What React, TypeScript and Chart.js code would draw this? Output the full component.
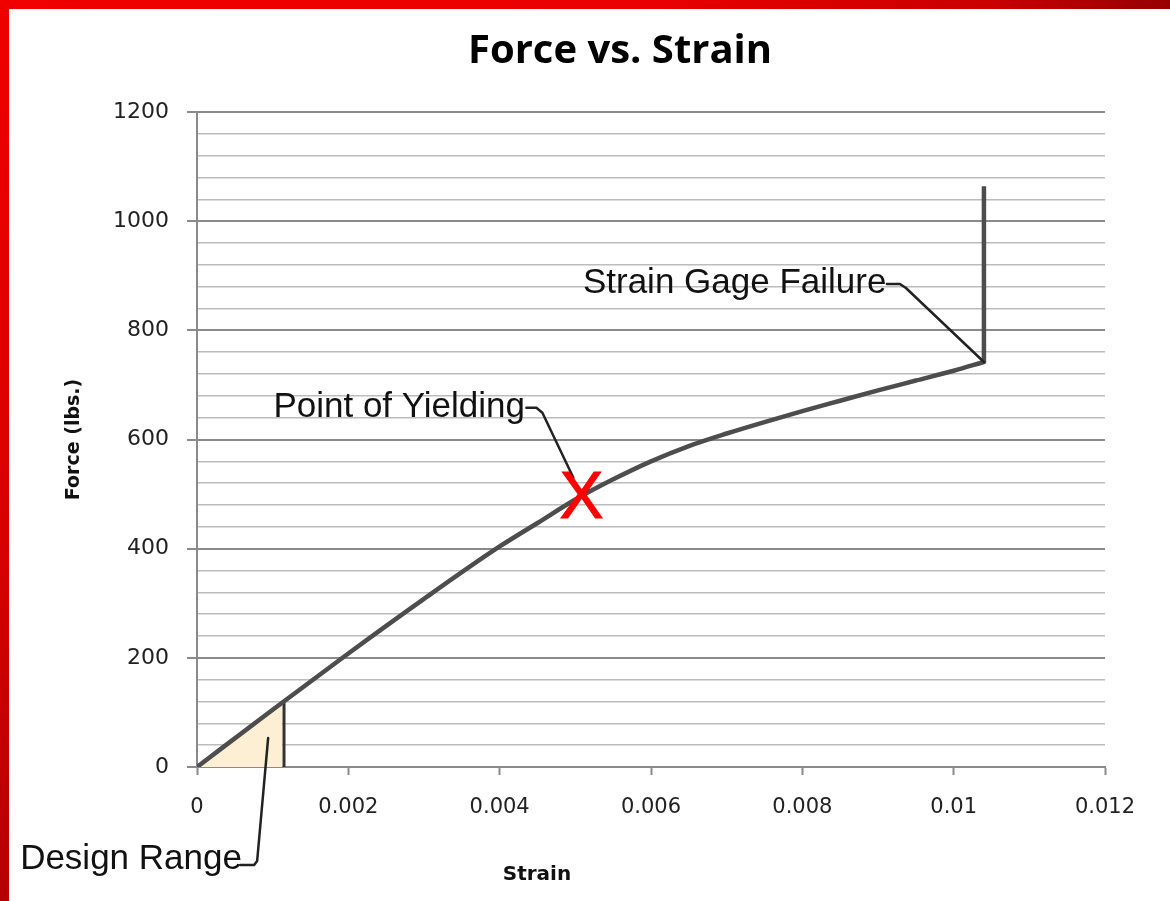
import React, { useEffect, useRef } from 'react';
import { Chart, registerables } from 'chart.js';

Chart.register(...registerables);

// ---- data ----
const strain = [0, 0.001, 0.002, 0.003, 0.004, 0.0045, 0.005, 0.0055, 0.006, 0.0065, 0.007, 0.0075, 0.008, 0.0085, 0.009, 0.0095, 0.01, 0.0104];
const force = [0, 105, 208, 308, 404, 447, 490, 527, 560, 588, 611, 632, 652, 671, 690, 708, 726, 742];

const failureSegStrain = [0.0104, 0.0104];
const failureSegForce = [742, 1064];

const designStrain = [0, 0.00113];
const designForce = [0, 118];
const designLimitStrain = [0.00115, 0.00115];
const designLimitForce = [0, 122];

const yieldStrain = 0.00508;
const yieldForce = 495;
const failureStrain = 0.0104;
const failureForce = 742;
const designNoteStrain = 0.00094;
const designNoteForce = 53;

const xTickValues = [0, 0.002, 0.004, 0.006, 0.008, 0.01, 0.012];
const xTickLabels = ['0', '0.002', '0.004', '0.006', '0.008', '0.01', '0.012'];
const yMin = 0;
const yMax = 1200;
const yMajorStep = 200;
const yMinorStep = 40;

const titleText = 'Force vs. Strain';
const xTitle = 'Strain';
const yTitle = 'Force (lbs.)';
const yieldLabel = 'Point of Yielding';
const failureLabel = 'Strain Gage Failure';
const designLabel = 'Design Range';

const MAJOR = '#8a8a8a';
const MINOR = '#bcbcbc';
const NOTE_FONT = '35px "Liberation Sans", Arial, sans-serif';

const overlayPlugin = {
  id: 'overlay',
  afterDatasetsDraw(chart: any) {
    const { ctx } = chart;
    const x = chart.scales.x;
    const y = chart.scales.y;
    ctx.save();

    // title
    ctx.font = 'bold 40px "Open Sans"';
    ctx.fillStyle = '#000';
    ctx.textAlign = 'center';
    ctx.textBaseline = 'alphabetic';
    ctx.fillText(titleText, 620, 63);

    // x axis title
    ctx.font = 'bold 20px "DejaVu Sans"';
    ctx.fillStyle = '#111';
    ctx.textBaseline = 'middle';
    ctx.fillText(xTitle, 537, 875);

    const drawLeader = (ax: number, ay: number, pts: number[][]) => {
      ctx.beginPath();
      ctx.strokeStyle = '#222';
      ctx.lineWidth = 2.5;
      ctx.lineJoin = 'round';
      ctx.lineCap = 'round';
      pts.forEach((p, i) => {
        if (i === 0) ctx.moveTo(ax + p[0], ay + p[1]);
        else ctx.lineTo(ax + p[0], ay + p[1]);
      });
      ctx.stroke();
    };
    const drawNote = (ax: number, ay: number, text: string, dx: number, dy: number) => {
      ctx.font = NOTE_FONT;
      ctx.fillStyle = '#111';
      ctx.textAlign = 'left';
      ctx.textBaseline = 'alphabetic';
      ctx.fillText(text, ax + dx, ay + dy);
    };

    // Point of yielding
    const yx = x.getPixelForValue(yieldStrain);
    const yy = y.getPixelForValue(yieldForce);
    drawNote(yx, yy, yieldLabel, -308, -80);
    drawLeader(yx, yy, [[-55, -89], [-45, -89], [-39, -84], [-8, -19]]);
    ctx.font = '66px "Liberation Sans", Arial, sans-serif';
    ctx.fillStyle = '#ff0000';
    ctx.strokeStyle = '#ff0000';
    ctx.lineWidth = 1;
    ctx.lineJoin = 'miter';
    ctx.textAlign = 'center';
    ctx.textBaseline = 'middle';
    ctx.fillText('X', yx, yy + 3);
    ctx.strokeText('X', yx, yy + 3);

    // Strain gage failure
    const fx = x.getPixelForValue(failureStrain);
    const fy = y.getPixelForValue(failureForce);
    drawNote(fx, fy, failureLabel, -401, -69);
    drawLeader(fx, fy, [[-97, -78], [-84, -78], [-78, -74], [0, 0]]);

    // Design range
    const dx = x.getPixelForValue(designNoteStrain);
    const dy = y.getPixelForValue(designNoteForce);
    drawNote(dx, dy, designLabel, -248, 131);
    drawLeader(dx, dy, [[-28, 127], [-14, 127], [-11, 123], [0, 0]]);

    ctx.restore();
  },
};

export default function App() {
  const canvasRef = useRef<HTMLCanvasElement | null>(null);

  useEffect(() => {
    const canvas = canvasRef.current;
    if (!canvas) return;
    const isMajor = (v: number) => Math.abs(Math.round(v) % yMajorStep) === 0;

    const chart = new Chart(canvas, {
      type: 'scatter',
      data: {
        datasets: [
          {
            label: 'Design range fill',
            data: designStrain.map((s, i) => ({ x: s, y: designForce[i] })),
            showLine: true,
            fill: 'origin',
            backgroundColor: '#fcefd3',
            borderColor: 'rgba(0,0,0,0)',
            borderWidth: 0,
            pointRadius: 0,
            order: 4,
          },
          {
            label: 'Design limit',
            data: designLimitStrain.map((s, i) => ({ x: s, y: designLimitForce[i] })),
            showLine: true,
            borderColor: '#333',
            borderWidth: 3,
            pointRadius: 0,
            fill: false,
            order: 3,
          },
          {
            label: 'Force',
            data: strain.map((s, i) => ({ x: s, y: force[i] })),
            showLine: true,
            borderColor: '#4d4d4d',
            borderWidth: 4.5,
            pointRadius: 0,
            fill: false,
            cubicInterpolationMode: 'monotone',
            borderCapStyle: 'round',
            order: 2,
          },
          {
            label: 'Failure',
            data: failureSegStrain.map((s, i) => ({ x: s, y: failureSegForce[i] })),
            showLine: true,
            borderColor: '#4d4d4d',
            borderWidth: 4.5,
            pointRadius: 0,
            fill: false,
            order: 1,
          },
        ],
      },
      options: {
        animation: false,
        responsive: false,
        maintainAspectRatio: false,
        layout: { padding: { top: 112, right: 65, bottom: 14, left: 0 } },
        plugins: {
          legend: { display: false },
          tooltip: { enabled: false },
          title: { display: false },
        },
        scales: {
          x: {
            type: 'linear',
            min: 0,
            max: 0.012,
            afterFit: (scale: any) => { scale.height = 120; },
            ticks: {
              stepSize: 0.002,
              padding: 20,
              color: '#222',
              font: { family: '"DejaVu Sans"', size: 21 },
              callback: (v: any) => {
                const idx = xTickValues.findIndex((t) => Math.abs(t - Number(v)) < 1e-9);
                return idx >= 0 ? xTickLabels[idx] : '';
              },
            },
            grid: {
              drawOnChartArea: false,
              drawTicks: true,
              tickLength: 8,
              tickColor: MAJOR,
              tickWidth: 2,
            },
            border: { display: true, color: MAJOR, width: 2 },
            title: { display: false },
          },
          y: {
            type: 'linear',
            min: yMin,
            max: yMax,
            afterFit: (scale: any) => { scale.width = 197; },
            ticks: {
              stepSize: yMinorStep,
              autoSkip: false,
              padding: 18,
              color: '#222',
              font: { family: '"DejaVu Sans"', size: 22 },
              callback: (v: any) => (isMajor(Number(v)) ? String(Math.round(Number(v))) : ''),
            },
            grid: {
              drawTicks: true,
              tickLength: 10,
              color: (c: any) => (c.tick && isMajor(c.tick.value) ? MAJOR : MINOR),
              lineWidth: (c: any) => (c.tick && isMajor(c.tick.value) ? 2 : 1.6),
              tickColor: (c: any) => (c.tick && isMajor(c.tick.value) ? MAJOR : 'rgba(0,0,0,0)'),
              tickWidth: 2,
            },
            border: { display: true, color: MAJOR, width: 2 },
            title: {
              display: true,
              text: yTitle,
              color: '#111',
              font: { family: '"DejaVu Sans"', size: 19, weight: 'bold' },
              padding: { top: 63, bottom: 0 },
            },
          },
        },
      },
      plugins: [overlayPlugin],
    } as any);

    let alive = true;
    if ((document as any).fonts && (document as any).fonts.load) {
      Promise.all([
        (document as any).fonts.load('bold 40px "Open Sans"'),
        (document as any).fonts.load('35px "Liberation Sans"'),
        (document as any).fonts.load('21px "DejaVu Sans"'),
      ]).then(() => { if (alive) chart.update(); }).catch(() => {});
    }

    return () => {
      alive = false;
      chart.destroy();
    };
  }, []);

  return (
    <div style={{ position: 'absolute', left: 0, top: 0, width: 1170, height: 901, background: '#fff', overflow: 'hidden' }}>
      <canvas ref={canvasRef} width={1170} height={901} style={{ position: 'absolute', left: 0, top: 0, width: 1170, height: 901 }} />
      <div style={{ position: 'absolute', left: 0, top: 0, width: 1170, height: 9, background: 'linear-gradient(to right, #f00000 0%, #ea0000 55%, #c80000 85%, #960000 100%)' }} />
      <div style={{ position: 'absolute', left: 0, top: 0, width: 9, height: 901, background: 'linear-gradient(to bottom, #f00000 0%, #d80000 60%, #b40000 100%)' }} />
    </div>
  );
}
